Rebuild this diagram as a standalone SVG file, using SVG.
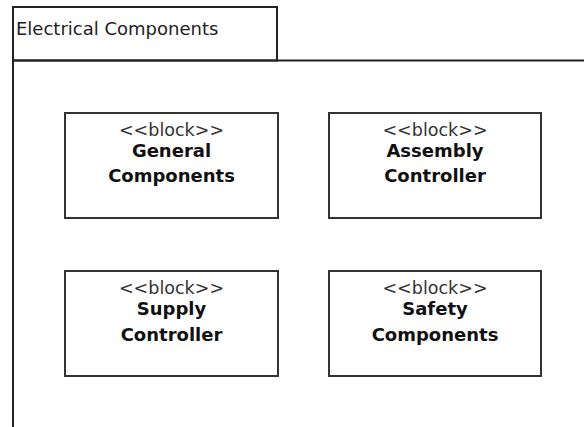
<svg xmlns="http://www.w3.org/2000/svg" width="584" height="427" viewBox="0 0 584 427">
<style>
.frame{fill:none;stroke:#222;stroke-width:2}
.blk{fill:#fff;stroke:#333;stroke-width:2}
.st{font-family:"DejaVu Sans",Verdana,sans-serif;font-size:17.5px;fill:#333;text-anchor:middle}
.nm{font-family:"DejaVu Sans",Verdana,sans-serif;font-size:18px;font-weight:bold;fill:#111;text-anchor:middle}
.ttl{font-family:"DejaVu Sans",Verdana,sans-serif;font-size:18px;fill:#222}
</style>
<rect width="584" height="427" fill="#fff"/>
<g id="frame">
<rect class="frame" x="13" y="7" width="264" height="53.5"/>
<line class="frame" x1="13" y1="60.5" x2="584" y2="60.5"/>
<line class="frame" x1="13" y1="7" x2="13" y2="427"/>
<text class="ttl" x="16" y="35">Electrical Components</text>
</g>
<g id="general">
<rect class="blk" x="65" y="113" width="213" height="105"/>
<text class="st" x="171.5" y="136">&lt;&lt;block&gt;&gt;</text>
<text class="nm" x="171.5" y="157">General</text>
<text class="nm" x="171.5" y="182">Components</text>
</g>
<g id="assembly">
<rect class="blk" x="329" y="113" width="212" height="105"/>
<text class="st" x="435" y="136">&lt;&lt;block&gt;&gt;</text>
<text class="nm" x="435" y="157">Assembly</text>
<text class="nm" x="435" y="182">Controller</text>
</g>
<g id="supply">
<rect class="blk" x="65" y="271" width="213" height="105"/>
<text class="st" x="171.5" y="294">&lt;&lt;block&gt;&gt;</text>
<text class="nm" x="171.5" y="315">Supply</text>
<text class="nm" x="171.5" y="341">Controller</text>
</g>
<g id="safety">
<rect class="blk" x="329" y="271" width="212" height="105"/>
<text class="st" x="435" y="294">&lt;&lt;block&gt;&gt;</text>
<text class="nm" x="435" y="315">Safety</text>
<text class="nm" x="435" y="341">Components</text>
</g>
<g id="connectors"></g>
</svg>
